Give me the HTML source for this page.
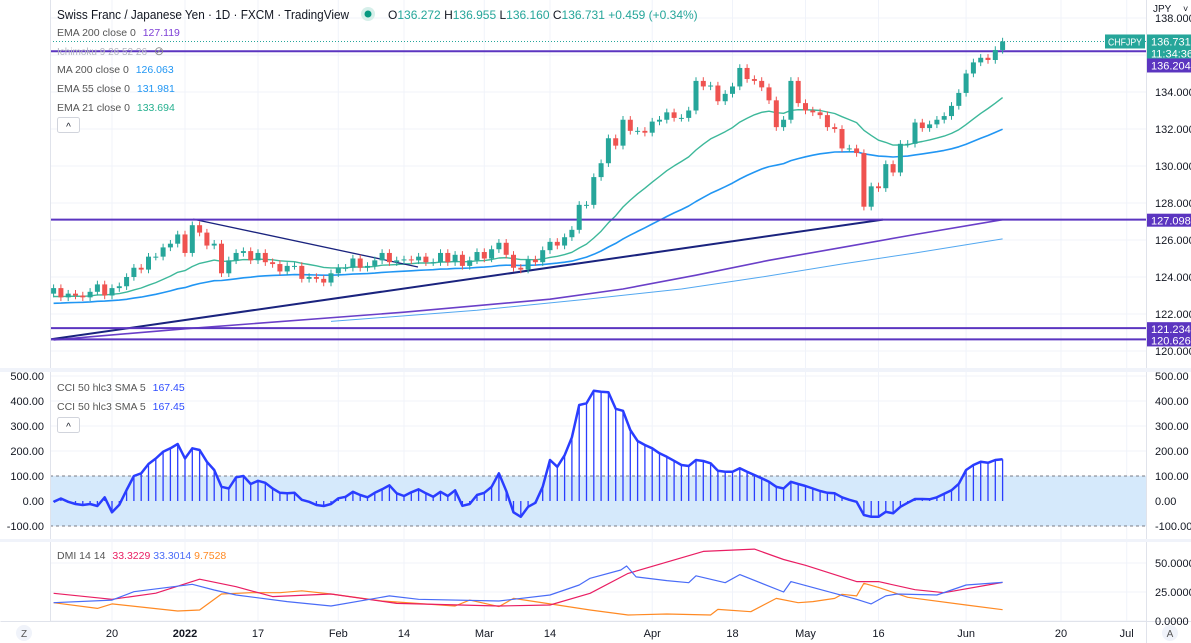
<!DOCTYPE html>
<html><head><meta charset="utf-8"><style>
body{margin:0;background:#fff;}
svg{display:block;font-family:"Liberation Sans",sans-serif;}
</style></head><body>
<svg id="c" width="1191" height="643" viewBox="0 0 1191 643" xmlns="http://www.w3.org/2000/svg">
<rect width="1191" height="643" fill="#fff"/>
<g id="grid"></g>
<g id="main"></g>
<g id="cci"></g>
<g id="dmi"></g>
<g id="axes"></g>
<g id="legend">
<text x="57" y="19" font-size="13" fill="#131722" textLength="292" lengthAdjust="spacingAndGlyphs">Swiss Franc / Japanese Yen · 1D · FXCM · TradingView</text>
<circle cx="368" cy="14" r="7" fill="#d6efea"/><circle cx="368" cy="14" r="3.5" fill="#089981"/>
<text x="388" y="19" font-size="12" fill="#131722">O<tspan fill="#26a69a">136.272</tspan> H<tspan fill="#26a69a">136.955</tspan> L<tspan fill="#26a69a">136.160</tspan> C<tspan fill="#26a69a">136.731</tspan> <tspan fill="#26a69a">+0.459 (+0.34%)</tspan></text>
<text x="57" y="36" font-size="10.5" fill="#555">EMA 200 close 0 <tspan fill="#7e3fd6" dx="4">127.119</tspan></text>
<text x="57" y="55" font-size="10.5" fill="#b2b5be" textLength="90" lengthAdjust="spacingAndGlyphs">Ichimoku 9 26 52 26</text>
<text x="154" y="55" font-size="12" fill="#888">⊘</text>
<text x="57" y="73" font-size="10.5" fill="#555">MA 200 close 0 <tspan fill="#2196f3" dx="4">126.063</tspan></text>
<text x="57" y="92" font-size="10.5" fill="#555">EMA 55 close 0 <tspan fill="#2196f3" dx="4">131.981</tspan></text>
<text x="57" y="111" font-size="10.5" fill="#555">EMA 21 close 0 <tspan fill="#26b08f" dx="4">133.694</tspan></text>
<rect x="57.5" y="117.5" width="22" height="15" fill="#fff" stroke="#d1d4dc" rx="2"/>
<text x="68.5" y="130" font-size="10" text-anchor="middle" fill="#131722">^</text>
<text x="57" y="391" font-size="10.5" fill="#555">CCI 50 hlc3 SMA 5 <tspan fill="#2e4cff" dx="4">167.45</tspan></text>
<text x="57" y="410" font-size="10.5" fill="#555">CCI 50 hlc3 SMA 5 <tspan fill="#2e4cff" dx="4">167.45</tspan></text>
<rect x="57.5" y="417.5" width="22" height="15" fill="#fff" stroke="#d1d4dc" rx="2"/>
<text x="68.5" y="430" font-size="10" text-anchor="middle" fill="#131722">^</text>
<text x="57" y="559" font-size="10.5" fill="#555">DMI 14 14 <tspan fill="#e91e63" dx="4">33.3229</tspan> <tspan fill="#4a6cf7">33.3014</tspan> <tspan fill="#ff8a24">9.7528</tspan></text>
</g>
</svg>
<script>
// ---- data ----
const startIdx = -8;
const closes = [123.4,122.9,123.1,123.0,122.9,123.2,123.6,123.0,
123.4,123.5,124.0,124.5,124.4,125.1,125.1,125.6,125.8,126.3,125.3,126.8,126.4,125.7,125.8,124.2,124.9,125.3,125.4,124.9,
125.3,124.8,124.7,124.3,124.6,124.6,123.9,124.0,123.9,123.7,124.2,124.5,124.5,125.0,124.5,124.6,124.9,125.3,124.8,124.9,
124.95,124.9,125.1,124.8,124.8,125.3,124.8,125.2,124.6,124.9,125.35,125.0,125.5,125.85,125.2,124.5,124.4,124.95,124.8,125.45,
125.9,125.7,126.15,126.55,127.9,127.9,129.4,130.15,131.5,131.1,132.5,131.9,131.9,131.8,132.4,132.5,132.9,132.6,132.6,133.0,
134.6,134.3,134.35,133.5,133.9,134.3,135.3,134.7,134.6,134.25,
133.55,132.1,132.5,134.6,133.4,133.0,132.9,132.75,132.1,132.0,130.95,130.95,130.7,127.8,128.9,128.8,130.1,129.65,131.2,131.2,
132.35,132.05,132.25,132.5,132.7,133.25,133.95,135.0,135.6,135.85,135.73,136.272,136.731];
const ema200Idx = [-8,10,40,60,70,80,90,100,110,122];
const ema200Val = [120.6,121.2,122.1,122.8,123.35,124.1,124.9,125.6,126.3,127.1];
const ma200Idx = [30,50,65,78,89,100,110,122];
const ma200Val = [121.6,122.2,122.8,123.35,124.0,124.7,125.3,126.06];
const levels = [136.204,127.098,121.234,120.626];
const cciVals = [-3,10,-3,-12,-16,-12,-20,15,
-45,-15,44,100,111,148,170,197,211,228,170,211,204,157,124,57,50,95,100,68,81,73,50,33,31,33,5,-3,-16,-20,
-12,11,17,37,24,15,33,47,63,31,20,35,47,31,17,37,20,43,-19,-12,24,33,57,111,41,-45,-63,-23,-7,57,
164,137,183,255,384,391,441,437,
435,369,361,284,240,224,211,191,177,161,144,140,164,160,151,121,117,117,131,117,104,91,77,57,50,77,68,60,50,40,
33,31,15,5,-3,-56,-63,-63,-43,-49,-23,-7,8,8,7,15,29,43,69,124,144,157,153,164,167];
const dmiRedIdx = [-8,0,6,12,17,22,30,39,53,60,65.5,70.7,81,88,92,95,102,105,110,114,122];
const dmiRed = [23.9,18.7,24,36,29.6,21,23.3,15.2,12.9,13.8,23.9,41,60,62,53,48,34,34,27,24.4,33.3];
const dmiBlueIdx = [-8,0,3,11,14,17,24,30,38,42,53,60,64,65.5,69.7,70.5,71.8,76,79,80,84,86,92,93,102,104,106,107.5,113,117,122];
const dmiBlue = [15.8,18,25.3,31.6,26.7,22.4,16.7,12.9,21.6,18.7,17.2,22.4,31,36.8,44,47.4,38,34.8,33,39,33,40,25,34,18.7,14.7,21.6,23.3,22.4,31,33.3];
const dmiOrangeIdx = [-8,-2,0,9,12,15,19,23,26,30,37,47,49,53,55,60,65.5,70.7,76,82,83,87.5,91,94,96,99,100,102,103,105,109,117,122];
const dmiOrange = [15.8,10.9,14.7,8.6,9.5,23.3,24.4,24.4,26,23.3,17.2,12.9,18,12.4,19.5,14.7,9.5,5.2,6,5.2,10,8,19.5,15.8,16.7,19.5,23,21.6,32.5,29,20.4,13.8,9.75];
const priceTicks = [120,122,124,126,128,130,132,134,136,138];
const cciTicks = [500,400,300,200,100,0,-100];
const dmiTicks = [50,25,0];
const dateIdx = [0,10,20,31,40,51,60,74,85,95,105,117,130,139];
const dateLabels = ["20","2022","17","Feb","14","Mar","14","Apr","18","May","16","Jun","20","Jul"];

// ---- scales ----
const X0=50, X1=1146;
const xI = i => 112 + i*7.3;
const yP = p => 92 + (134-p)*18.5;
const yC = v => 501 - v*0.25;
const yD = v => 621 - v*1.16;
const NS="http://www.w3.org/2000/svg";
function mk(parent, tag, attrs){const e=document.createElementNS(NS,tag);for(const k in attrs)e.setAttribute(k,attrs[k]);parent.appendChild(e);return e;}
const grid=document.getElementById('grid'), main=document.getElementById('main'), cci=document.getElementById('cci'), dmi=document.getElementById('dmi'), axes=document.getElementById('axes');

dateIdx.forEach(i=>{const l=mk(grid,'line',{x1:xI(i),x2:xI(i),y1:0,y2:621,stroke:'#f0f3fa'});

});
priceTicks.forEach(p=>{const l=mk(grid,'line',{x1:X0,x2:X1,y1:yP(p),y2:yP(p),stroke:'#f0f3fa'});

});
cciTicks.forEach(v=>{const l=mk(grid,'line',{x1:X0,x2:X1,y1:yC(v),y2:yC(v),stroke:'#f0f3fa'});

});
dmiTicks.forEach(v=>{const l=mk(grid,'line',{x1:X0,x2:X1,y1:yD(v),y2:yD(v),stroke:'#f0f3fa'});

});

function polyFrom(g,idx,val,yf,color,w,name){
  const pts=idx.map((i,k)=>xI(i).toFixed(1)+','+yf(val[k]).toFixed(1)).join(' ');
  const p=mk(g,'polyline',{points:pts,fill:'none',stroke:color,'stroke-width':w,'stroke-linejoin':'round'});
  
  
  return p;
}
// ---- main pane ----
const clipR=mk(main,'clipPath',{id:'mc'});mk(clipR,'rect',{x:X0,y:0,width:X1-X0,height:370});
const mg=mk(main,'g',{'clip-path':'url(#mc)'});
polyFrom(mg,ema200Idx,ema200Val,yP,'#6a3fc8',1.6,'ema200-line');
polyFrom(mg,ma200Idx,ma200Val,yP,'#53a8f0',1,'ma200-line');
const allIdx=closes.map((c,k)=>startIdx+k);
let e21=122.9,e55=122.55;const ema21=[],ema55=[];
closes.forEach(c=>{e21=e21+(c-e21)*2/22;e55=e55+(c-e55)*2/56;ema21.push(e21);ema55.push(e55);});
polyFrom(mg,allIdx,ema55,yP,'#2196f3',1.6,'ema55-line');
polyFrom(mg,allIdx,ema21,yP,'#3db89a',1.4,'ema21-line');
let t=mk(mg,'line',{x1:X0,y1:yP(120.626),x2:883,y2:yP(127.1),stroke:'#1a237e','stroke-width':2});


t=mk(mg,'line',{x1:193,y1:yP(127.13),x2:418,y2:yP(124.54),stroke:'#1a237e','stroke-width':1.3});


levels.forEach(l=>{const h=mk(mg,'line',{x1:X0,x2:X1,y1:yP(l),y2:yP(l),stroke:'#5b35c0','stroke-width':2});

});
const last=closes[closes.length-1];
t=mk(mg,'line',{x1:X0,x2:X1,y1:yP(last),y2:yP(last),stroke:'#26a69a','stroke-dasharray':'1 2'});


closes.forEach((c,k)=>{
  const o = k>0 ? closes[k-1] : c-0.3;
  const i=startIdx+k, x=xI(i), up=c>=o, col=up?'#26a69a':'#ef5350';
  const hi=Math.max(o,c)+0.2, lo=Math.min(o,c)-0.2;
  const w=mk(mg,'line',{x1:x,x2:x,y1:yP(hi),y2:yP(lo),stroke:col,'stroke-width':1});
  
  
  const top=yP(Math.max(o,c)), h=Math.max(1,yP(Math.min(o,c))-top);
  const b=mk(mg,'rect',{x:x-2.5,y:top,width:5,height:h,fill:col});
  
  
});
// ---- CCI pane ----
let band=mk(cci,'rect',{x:X0,y:yC(100),width:X1-X0,height:yC(-100)-yC(100),fill:'#d5e9fb'});


[100,-100].forEach(v=>{const l=mk(cci,'line',{x1:X0,x2:X1,y1:yC(v),y2:yC(v),stroke:'#787b86','stroke-dasharray':'3 3'});

});
cciVals.forEach((v,k)=>{const x=xI(startIdx+k);
  const s=mk(cci,'line',{x1:x,x2:x,y1:yC(0),y2:yC(v),stroke:'#2a3dff','stroke-width':1.3});
  
  });
polyFrom(cci,allIdx,cciVals,yC,'#2a3dff',2.5,'cci-line');
// ---- DMI pane ----
polyFrom(dmi,dmiOrangeIdx,dmiOrange,yD,'#ff8a24',1.2,'adx-line');
polyFrom(dmi,dmiRedIdx,dmiRed,yD,'#e91e63',1.2,'di-plus-line');
polyFrom(dmi,dmiBlueIdx,dmiBlue,yD,'#4a6cf7',1.2,'di-minus-line');

// ---- axes ----
function txt(g,x,y,s,attrs,name){const e=mk(g,'text',Object.assign({x:x,y:y,'font-size':11,fill:'#131722'},attrs||{}));e.textContent=s;

return e;}
[[X0,0,X0,621],[X1,0,X1,643],[0,370.5,1191,370.5],[0,540.5,1191,540.5],[0,621.5,1191,621.5]].forEach(a=>{
 const l=mk(axes,'line',{x1:a[0]+0.5,y1:a[1],x2:a[2]+0.5,y2:a[3],stroke:'#e0e3eb','stroke-width':1});
 
 });
mk(axes,'rect',{x:0,y:368,width:1191,height:4,fill:'#f0f3fa'});
mk(axes,'rect',{x:0,y:539,width:1191,height:3,fill:'#f0f3fa'});
priceTicks.forEach(p=>{const y=yP(p);if(y<10||y>365||p===136)return;txt(axes,1155,y+4,p.toFixed(3),{},'price-tick-label');});
mk(axes,'rect',{x:1147,y:0,width:44,height:14,fill:'#fff'});
txt(axes,1153,12,'JPY',{'font-size':10},'currency-label');
txt(axes,1183,12,'˅',{'font-size':9},'currency-dropdown');
cciTicks.forEach(v=>{const y=yC(v);txt(axes,1155,y+4,v.toFixed(2),{},'cci-tick-right');txt(axes,44,y+4,v.toFixed(2),{'text-anchor':'end'},'cci-tick-left');});
dmiTicks.forEach(v=>{const y=yD(v);txt(axes,1155,y+4,v.toFixed(4),{},'dmi-tick-label');});
dateIdx.forEach((i,k)=>{txt(axes,xI(i),637,dateLabels[k],{'text-anchor':'middle','font-weight':dateLabels[k]==='2022'?'bold':'normal'},'date-label');});
function box(y,h,col,lines,name){const g=mk(axes,'g',{});
 
 
 mk(g,'rect',{x:1147,y:y,width:44,height:h,fill:col});
 lines.forEach((s,k)=>{const e=mk(g,'text',{x:1151,y:y+11+k*12,'font-size':11,fill:'#fff'});e.textContent=s;});}
levels.forEach(l=>{ if(l===136.204) return; box(yP(l)-6,13,'#5b35c0',[l.toFixed(3)],'level-price-label');});
box(yP(last)-7,24,'#26a69a',[last.toFixed(3),'11:34:36'],'last-price-label');
box(yP(last)+17,14,'#5b35c0',[levels[0].toFixed(3)],'level-price-label');
let sb=mk(axes,'rect',{x:1105,y:yP(last)-7,width:40,height:14,fill:'#26a69a'});


let st=mk(axes,'text',{x:1108,y:yP(last)+4,'font-size':10,fill:'#fff',textLength:'34',lengthAdjust:'spacingAndGlyphs'});st.textContent='CHFJPY';
let zc=mk(axes,'circle',{cx:24,cy:633,r:8,fill:'#f0f3fa'});


txt(axes,24,637,'Z',{'text-anchor':'middle','font-size':10,fill:'#555'},'zoom-reset-text');
let ac=mk(axes,'circle',{cx:1170,cy:633,r:8,fill:'#f0f3fa'});


txt(axes,1170,637,'A',{'text-anchor':'middle','font-size':10,fill:'#555'},'auto-scale-text');
</script>
</body></html>
